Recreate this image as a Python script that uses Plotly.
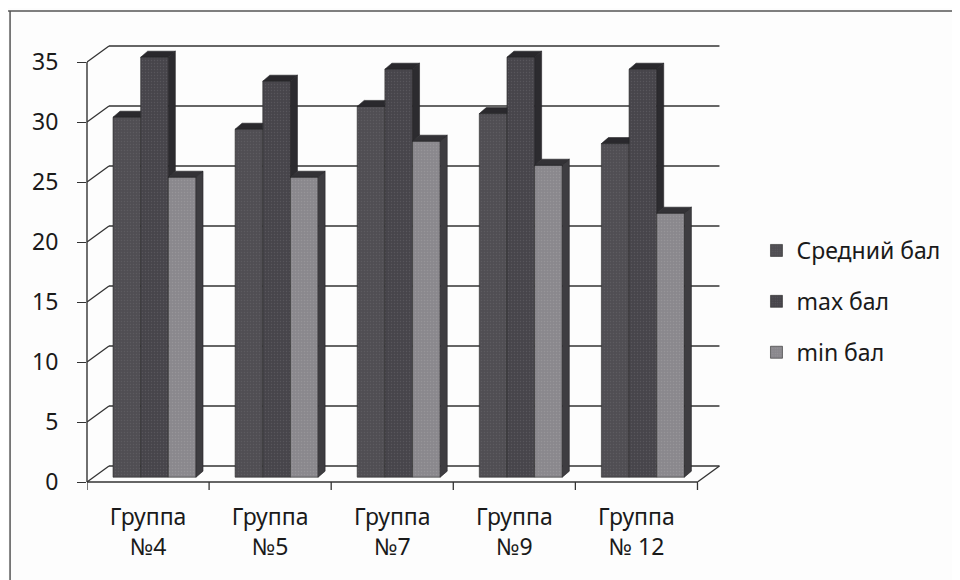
import plotly.graph_objects as go

# ---- data ----
categories = ["Группа<br>№4", "Группа<br>№5", "Группа<br>№7", "Группа<br>№9", "Группа<br>№ 12"]
series_names = ["Средний бал", "max бал", "min бал"]
avg_vals = [30, 29, 30.9, 30.3, 27.8]
max_vals = [35, 33, 34, 35, 34]
min_vals = [25, 25, 28, 26, 22]
y_ticks = [0, 5, 10, 15, 20, 25, 30, 35]

series_vals = [avg_vals, max_vals, min_vals]
front_colors = ["#504e53", "#47454b", "#8a888d"]
side_colors = ["#2f2e32", "#2c2b2f", "#3e3d41"]
top_colors = ["#2a292d", "#29282c", "#333236"]

# ---- pseudo-3D projection parameters (data units) ----
PXX = 122.2          # px per x unit
PXY = 12.0           # px per y unit
bw = 27.7 / PXX      # bar width
shift = 0.053        # cluster shift to the right
ddx = 7 / PXX        # bar depth (x)
ddy = 6 / PXY        # bar depth (y)
b0 = 0.4             # bars stand behind the front floor edge
wdx = 22 / PXX       # back wall offset (x)
wdy = 16 / PXY       # back wall offset (y)

x_idx = list(range(len(categories)))
xr = [-0.5, 4.75]
yr = [0, 36.5]

fig = go.Figure()

def x0_of(i, k):
    return i + shift + (k - 1.5) * bw

# front faces (bars)
for k, (name, vals) in enumerate(zip(series_names, series_vals)):
    fig.add_trace(go.Bar(
        x=x_idx, y=vals, base=[b0] * len(vals), name=name,
        width=bw, offset=shift + (k - 1.5) * bw,
        marker=dict(color=front_colors[k], line=dict(color="#2a2a2a", width=0.6),
                    pattern=dict(shape=".", size=3, solidity=0.15,
                                 fgcolor="#6a686d" if k < 2 else "#a3a1a6", fillmode="overlay")),
        legendgroup=name,
    ))

# side and top faces
for k, vals in enumerate(series_vals):
    sx, sy, tx, ty = [], [], [], []
    for i, v in enumerate(vals):
        x0 = x0_of(i, k)
        x1 = x0 + bw
        V = b0 + v
        nxt = series_vals[k + 1][i] if k + 1 < len(series_vals) else None
        # side face
        if nxt is None:
            sx += [x1, x1 + ddx, x1 + ddx, x1, x1, None]
            sy += [b0, b0 + ddy, V + ddy, V, b0, None]
        elif v > nxt:
            T = b0 + nxt
            sx += [x1, x1 + ddx, x1 + ddx, x1, x1, None]
            sy += [T, T + ddy, V + ddy, V, T, None]
        # top face
        if nxt is not None and nxt >= v:
            tx += [x0, x0 + ddx, x1, x1, x0, None]
            ty += [V, V + ddy, V + ddy, V, V, None]
        else:
            tx += [x0, x0 + ddx, x1 + ddx, x1, x0, None]
            ty += [V, V + ddy, V + ddy, V, V, None]
    if sx:
        fig.add_trace(go.Scatter(x=sx, y=sy, mode="lines", fill="toself",
                                 fillcolor=side_colors[k], line=dict(color="#262529", width=0.6),
                                 showlegend=False, hoverinfo="skip"))
    fig.add_trace(go.Scatter(x=tx, y=ty, mode="lines", fill="toself",
                             fillcolor=top_colors[k], line=dict(color="#222125", width=0.6),
                             showlegend=False, hoverinfo="skip"))

# ---- walls, floor, axis decorations ----
shapes = []
gc = "#333333"
for v in y_ticks:
    shapes.append(dict(type="line", xref="x", yref="y", x0=xr[0] + wdx, x1=4.5 + wdx,
                       y0=v + wdy, y1=v + wdy, line=dict(color=gc, width=1.6), layer="below"))
    shapes.append(dict(type="line", xref="x", yref="y", x0=xr[0], x1=xr[0] + wdx,
                       y0=v, y1=v + wdy, line=dict(color=gc, width=1.3), layer="below"))
# floor right edge
shapes.append(dict(type="line", xref="x", yref="y", x0=4.5, x1=4.5 + wdx, y0=0, y1=wdy,
                   line=dict(color=gc, width=1.3), layer="below"))
# floor front edge
shapes.append(dict(type="line", xref="x", yref="paper", x0=-0.5, x1=4.5, y0=0, y1=0,
                   line=dict(color=gc, width=1.6)))
# vertical axis line
shapes.append(dict(type="line", xref="paper", yref="y", x0=0, x1=0, y0=0, y1=35,
                   line=dict(color=gc, width=1.4)))
# x ticks at group boundaries
for i in range(len(categories) + 1):
    shapes.append(dict(type="line", xref="x", yref="paper", x0=i - 0.5, x1=i - 0.5,
                       y0=0, y1=-8 / 438, line=dict(color=gc, width=1.3)))

# screen-pixel helpers (page is rendered with an 8px body offset)
W, H = 641.5, 438.0
def px(p):
    return (p - 87) / W
def py(p):
    return (482 - p) / H
# outer frame: top and left edges
shapes.append(dict(type="line", xref="paper", yref="paper", x0=px(8), x1=px(975),
                   y0=py(11), y1=py(11), line=dict(color="#555555", width=1.5)))
shapes.append(dict(type="line", xref="paper", yref="paper", x0=px(10), x1=px(10),
                   y0=py(11), y1=py(600), line=dict(color="#555555", width=1.5)))

font = "Noto Sans, Open Sans, DejaVu Sans, sans-serif"
fig.update_layout(
    width=960, height=580,
    margin=dict(l=79, r=239.5, t=36, b=106),
    paper_bgcolor="#fdfdfd", plot_bgcolor="rgba(0,0,0,0)",
    barmode="overlay",
    shapes=shapes,
    font=dict(family=font, size=23, color="#1a1a1a"),
    xaxis=dict(range=xr, tickmode="array", tickvals=x_idx, ticktext=categories,
               showgrid=False, zeroline=False, showline=False, ticks="",
               ticklabelstandoff=19, tickfont=dict(size=23)),
    yaxis=dict(range=yr, tickmode="array", tickvals=y_ticks, showgrid=False,
               zeroline=False, showline=False, ticks="outside", ticklen=9,
               tickcolor=gc, tickwidth=1.3, ticklabelstandoff=14, tickfont=dict(size=23)),
    legend=dict(x=px(757), y=py(229), xanchor="left", yanchor="top",
                bgcolor="rgba(0,0,0,0)", tracegroupgap=18, font=dict(size=23)),
    showlegend=True,
)

fig.write_html("out.html")
